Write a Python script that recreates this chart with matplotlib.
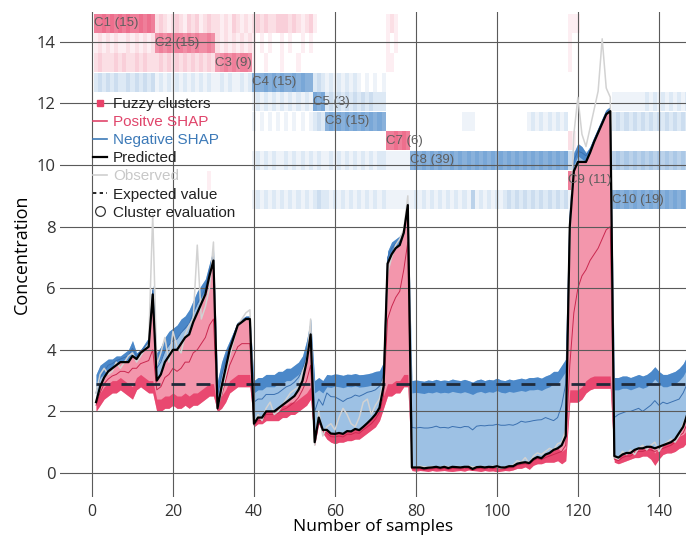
import matplotlib

matplotlib.use("Agg")
import matplotlib.pyplot as plt
import numpy as np
from matplotlib.colors import to_rgba
from matplotlib.lines import Line2D

plt.rcParams["font.family"] = ["Liberation Sans", "DejaVu Sans"]

# clusters in sample order
cluster_names = ["C1", "C2", "C3", "C4", "C5", "C6", "C7", "C8", "C9", "C10"]
cluster_sizes = [15, 15, 9, 15, 3, 15, 6, 39, 11, 19]
cluster_colors = ["#e8436a", "#e8436a", "#e8436a", "#3a7dc4", "#3a7dc4",
                  "#3a7dc4", "#e8436a", "#3a7dc4", "#e8436a", "#3a7dc4"]

# fuzzy membership level (0-9) per sample, one string per cluster segment
membership = [
    ["889898989889898", "232123213231232", "212132121", "232322333232123", "1", "", "121", "", "111", ""],
    ["121212112121212", "787878878787787", "212121212", "101010010100101", "", "", "101", "", "1", ""],
    ["232223232232322", "232323232323232", "678787887", "100100010001000", "", "", "11", "", "1", ""],
    ["232323223232323", "121212121212121", "121211212", "777878787787877", "232", "121212121010101", "", "", "", ""],
    ["", "", "", "121212121212121", "878", "232323232323222", "", "", "", "1111111121212121212"],
    ["", "", "", "101010101010101", "232", "787878787878787", "",
     "000000000000011100000000000001212121212", "", "2323232323232323232"],
    ["", "", "", "", "", "", "889898", "", "21", ""],
    ["", "", "", "121212112121212", "121", "121212121212122", "111111",
     "787878787787878787878787878787878787878", "33322222222", "4545454545454545454"],
    ["", "000000000000010", "", "", "", "", "", "", "88989898989", ""],
    ["", "", "", "121212121212121", "232", "212121212121212", "111111",
     "121212121212121412121212323232323232323", "11111111111", "7878787878787878787"],
]

expected_value = 2.9

# summed positive / negative SHAP contributions per sample
pos_shap = [
    0.3, 0.6, 0.7, 0.8, 0.8, 0.9, 0.9, 1.0, 1.1, 1.4, 1.0, 1.1, 1.3, 1.5, 3.2,
    1.0, 1.2, 1.5, 1.7, 1.8, 1.9, 2.1, 2.2, 2.4, 2.7, 3.0, 3.2, 3.4, 3.9, 4.4,
    0.1, 0.7, 1.1, 1.4, 1.7, 2.0, 2.1, 2.2, 2.2,
    0.1, 0.2, 0.2, 0.3, 0.3, 0.3, 0.4, 0.4, 0.5, 0.5, 0.6, 0.7, 0.9, 1.4, 2.1,
    0.1, 0.2, 0.1,
    0.3, 0.28, 0.32, 0.3, 0.27, 0.31, 0.3, 0.33, 0.29, 0.3, 0.32, 0.35, 0.4, 0.42, 0.7,
    4.3, 4.6, 4.7, 4.8, 5.0, 5.9,
    0.10, 0.12, 0.10, 0.08, 0.12, 0.10, 0.14, 0.10, 0.12, 0.10,
    0.15, 0.12, 0.10, 0.14, 0.10, 0.05, 0.12, 0.15, 0.10, 0.14,
    0.12, 0.18, 0.12, 0.10, 0.15, 0.12, 0.15, 0.18, 0.15, 0.20,
    0.20, 0.22, 0.18, 0.25, 0.30, 0.40, 0.40, 0.60, 0.80,
    5.7, 7.5, 7.8, 7.7, 7.5, 7.7, 8.0, 8.3, 8.6, 8.9, 9.0,
    0.2, 0.2, 0.25, 0.25, 0.2, 0.25, 0.3, 0.25, 0.3, 0.4, 0.55, 0.4, 0.3, 0.3, 0.35, 0.4, 0.5, 0.65, 0.9,
]
neg_shap = [
    0.9, 0.7, 0.5, 0.4, 0.3, 0.3, 0.2, 0.3, 0.4, 0.5, 0.2, 0.1, 0.2, 0.3, 0.3,
    0.9, 0.9, 0.8, 0.8, 0.7, 0.8, 0.8, 0.7, 0.8, 0.7, 0.7, 0.6, 0.5, 0.4, 0.4,
    0.9, 0.8, 0.6, 0.3, 0.2, 0.1, 0.1, 0.1, 0.1,
    1.4, 1.3, 1.3, 1.2, 1.2, 1.2, 1.2, 1.1, 1.1, 1.0, 1.0, 0.9, 0.8, 0.7, 0.5,
    2.0, 1.3, 1.6,
    1.8, 1.9, 1.95, 1.9, 1.9, 1.85, 1.85, 1.8, 1.8, 1.7, 1.6, 1.5, 1.4, 1.2, 0.8,
    0.4, 0.4, 0.3, 0.3, 0.1, 0.1,
    2.82, 2.84, 2.82, 2.83, 2.85, 2.82, 2.84, 2.83, 2.82, 2.84,
    2.85, 2.83, 2.82, 2.84, 2.80, 2.82, 2.83, 2.85, 2.82, 2.84,
    2.83, 2.86, 2.84, 2.82, 2.83, 2.80, 2.75, 2.75, 2.70, 2.78,
    2.65, 2.60, 2.60, 2.55, 2.55, 2.55, 2.50, 2.60, 2.50,
    0.6, 0.6, 0.6, 0.5, 0.3, 0.2, 0.15, 0.15, 0.15, 0.15, 0.15,
    2.55, 2.6, 2.55, 2.5, 2.45, 2.4, 2.4, 2.35, 2.35, 2.45, 2.65, 2.45, 2.3, 2.25, 2.25, 2.2, 2.1, 2.05, 1.9,
]
# largest single positive / negative feature (stacked next to the prediction)
pos_lead = [
    0.1, 0.2, 0.2, 0.25, 0.25, 0.3, 0.3, 0.3, 0.35, 0.4, 0.3, 0.35, 0.4, 0.45, 1.8,
    0.3, 0.4, 0.5, 0.6, 0.6, 0.7, 0.8, 0.8, 0.9, 1.0, 1.2, 1.3, 1.4, 1.6, 1.9,
    0.05, 0.3, 0.4, 0.5, 0.6, 0.7, 0.7, 0.8, 0.8,
    0.05, 0.1, 0.1, 0.1, 0.1, 0.1, 0.15, 0.15, 0.2, 0.2, 0.2, 0.25, 0.3, 0.6, 1.0,
    0.05, 0.1, 0.05,
    0.1, 0.1, 0.1, 0.1, 0.1, 0.1, 0.1, 0.12, 0.1, 0.1, 0.12, 0.15, 0.15, 0.15, 0.3,
    1.8, 1.7, 1.6, 1.5, 1.2, 1.2,
    0.05, 0.05, 0.05, 0.05, 0.05, 0.05, 0.05, 0.05, 0.05, 0.05,
    0.05, 0.05, 0.05, 0.05, 0.05, 0.05, 0.05, 0.05, 0.05, 0.05,
    0.05, 0.05, 0.05, 0.05, 0.05, 0.05, 0.05, 0.05, 0.05, 0.05,
    0.05, 0.05, 0.05, 0.10, 0.10, 0.15, 0.15, 0.20, 0.30,
    4.5, 4.6, 4.1, 3.7, 3.5, 3.5, 3.65, 3.75, 3.75, 3.75, 3.75,
    0.1, 0.1, 0.1, 0.1, 0.1, 0.1, 0.1, 0.1, 0.1, 0.1, 0.1, 0.1, 0.1, 0.1, 0.1, 0.1, 0.1, 0.2, 0.3,
]
neg_lead = [
    0.3, 0.3, 0.2, 0.2, 0.15, 0.15, 0.1, 0.15, 0.2, 0.25, 0.1, 0.05, 0.1, 0.15, 0.15,
    0.4, 0.4, 0.35, 0.35, 0.3, 0.35, 0.35, 0.3, 0.35, 0.3, 0.3, 0.25, 0.2, 0.2, 0.2,
    0.4, 0.35, 0.3, 0.15, 0.1, 0.05, 0.05, 0.05, 0.05,
    0.7, 0.6, 0.6, 0.55, 0.55, 0.55, 0.5, 0.5, 0.5, 0.45, 0.45, 0.4, 0.35, 0.3, 0.2,
    1.0, 0.6, 0.8,
    1.2, 1.2, 1.2, 1.1, 1.05, 1.05, 1.1, 1.1, 1.1, 1.05, 1.0, 0.9, 0.8, 0.7, 0.4,
    0.2, 0.2, 0.15, 0.15, 0.05, 0.05,
    1.30, 1.28, 1.30, 1.31, 1.29, 1.30, 1.32, 1.30, 1.28, 1.30,
    1.31, 1.30, 1.29, 1.31, 1.30, 1.27, 1.33, 1.34, 1.35, 1.35,
    1.36, 1.36, 1.37, 1.37, 1.35, 1.33, 1.30, 1.35, 1.30, 1.35,
    1.25, 1.20, 1.25, 1.20, 1.10, 0.95, 1.00, 1.30, 1.70,
    0.3, 0.35, 0.35, 0.3, 0.2, 0.1, 0.08, 0.08, 0.08, 0.08, 0.08,
    1.25, 1.4, 1.35, 1.35, 1.35, 1.3, 1.3, 1.2, 1.25, 1.35, 1.55, 1.35, 1.4, 1.3, 1.3, 1.25, 1.1, 1.1, 1.0,
]
observed = [
    2.6, 3.2, 3.4, 3.2, 3.3, 3.6, 3.4, 3.6, 3.8, 3.9, 3.6, 3.8, 4.0, 4.2, 8.4,
    3.5, 3.9, 4.4, 3.6, 4.6, 4.1, 3.9, 4.5, 4.8, 5.0, 7.4, 5.0, 5.4, 6.0, 7.5,
    2.1, 2.6, 3.2, 3.8, 4.3, 4.8, 5.0, 5.2, 5.3,
    1.6, 1.9, 1.7, 2.1, 2.3, 1.9, 2.0, 2.2, 2.4, 2.6, 2.7, 2.8, 3.3, 3.6, 5.0,
    0.9, 2.0, 1.2,
    1.5, 1.6, 1.4, 1.8, 2.1, 1.9, 1.6, 1.5, 1.8, 2.3, 2.4, 1.9, 2.2, 2.4, 3.0,
    6.5, 7.0, 7.4, 7.6, 7.9, 9.0,
    0.20, 0.18, 0.22, 0.20, 0.19, 0.21, 0.20, 0.18, 0.22, 0.20,
    0.19, 0.21, 0.20, 0.18, 0.22, 0.20, 0.19, 0.21, 0.20, 0.18,
    0.22, 0.20, 0.15, 0.20, 0.22, 0.25, 0.40, 0.35, 0.50, 0.30,
    0.55, 0.65, 0.60, 0.70, 0.80, 0.75, 0.95, 1.00, 1.40,
    7.5, 11.0, 12.2, 11.0, 10.6, 11.2, 11.8, 12.4, 14.1, 12.5, 12.2,
    0.5, 0.45, 0.7, 0.6, 0.75, 0.6, 0.8, 0.9, 0.75, 0.9, 1.0, 0.7, 0.9, 1.0, 1.1, 1.0, 1.2, 1.6, 1.9,
]

n_samples = sum(cluster_sizes)
samples = np.arange(1, n_samples + 1)
pos = np.array(pos_shap)
neg = np.array(neg_shap)
predicted = expected_value + pos - neg
red_low = predicted - pos
blue_top = predicted + neg

fig = plt.figure(figsize=(6.86, 5.38), dpi=100)
ax = fig.add_axes([60 / 686, 41 / 538, 626 / 686, 485 / 538])

# fuzzy cluster membership strips
row_h, row_step, first_top = 0.62, 0.636, 14.91
starts = np.cumsum([0] + cluster_sizes[:-1]) + 1
for k, segs in enumerate(membership):
    levels = "".join(s.ljust(n, "0")[:n] for s, n in zip(segs, cluster_sizes))
    alpha = np.array([int(c) for c in levels]) * 0.085
    base = to_rgba(cluster_colors[k])
    colors = [(base[0], base[1], base[2], a) for a in alpha]
    top = first_top - k * row_step
    ax.bar(samples, row_h, bottom=top - row_h, width=1.0, color=colors,
           linewidth=0, zorder=1)
    ax.text(starts[k] - 0.5, top - row_h / 2, f"{cluster_names[k]} ({cluster_sizes[k]})",
            fontsize=9.5, color="#5e5e5e", ha="left", va="center", zorder=6)

# stacked SHAP contributions around the prediction
ax.fill_between(samples, red_low, predicted, color="#f396ac", lw=0, zorder=1.5)
ax.fill_between(samples, predicted, blue_top, color="#9dc1e4", lw=0, zorder=1.5)
band = 0.4
ax.fill_between(samples, red_low, red_low + np.minimum(pos, band), color="#e8406a",
                lw=0, alpha=0.9, zorder=1.6)
ax.fill_between(samples, blue_top - np.minimum(neg, band), blue_top, color="#4282c6",
                lw=0, alpha=0.9, zorder=1.6)
ax.plot(samples, predicted - np.array(pos_lead), color="#c9284f", lw=0.7, zorder=2)
ax.plot(samples, predicted + np.array(neg_lead), color="#3a70b0", lw=0.7, zorder=2)

ax.plot(samples, observed, color="#d2d2d2", lw=1.1, zorder=4)
ax.plot([samples[0], samples[-1]], [expected_value, expected_value], color="#1f2a3a",
        lw=2, dashes=(5, 4), zorder=4.5)
ax.plot(samples, predicted, color="black", lw=1.6, zorder=5)

ax.set_xlim(-7.9, 146.7)
ax.set_ylim(-0.78, 14.97)
ax.set_xticks(range(0, 141, 20))
ax.set_yticks(range(0, 15, 2))
ax.grid(True, color="#5a5a5a", lw=0.8)
ax.set_axisbelow(False)
for side in ax.spines.values():
    side.set_visible(False)
ax.tick_params(axis="x", length=0, pad=5, labelsize=11.5, colors="#333333")
ax.tick_params(axis="y", length=0, pad=3, labelsize=12, colors="#333333")
for lbl in ax.get_xticklabels() + ax.get_yticklabels():
    lbl.set_family("Open Sans")
ax.set_xlabel("Number of samples", fontsize=12.5, family="Open Sans", labelpad=-1)
ax.set_ylabel("Concentration", fontsize=13, family="Open Sans", labelpad=4)

handles = [
    Line2D([], [], ls="none", marker="s", ms=5, color="#e8436a"),
    Line2D([], [], color="#e0456b", lw=1.2),
    Line2D([], [], color="#3d7ab8", lw=1.2),
    Line2D([], [], color="black", lw=1.6),
    Line2D([], [], color="#cfcfcf", lw=1.2),
    Line2D([], [], color="black", lw=1.2, dashes=(2, 2)),
    Line2D([], [], ls="none", marker="o", ms=7, mfc="none", mec="#333333", mew=0.9),
]
labels = ["Fuzzy clusters", "Positve SHAP", "Negative SHAP", "Predicted",
          "Observed", "Expected value", "Cluster evaluation"]
leg = ax.legend(handles, labels, loc="upper left", bbox_to_anchor=(0.053, 0.825),
                frameon=False, fontsize=11, handlelength=0.9, handletextpad=0.4,
                labelspacing=0.27, borderaxespad=0, borderpad=0,
                labelcolor=["#222222", "#e0456b", "#3d7ab8", "#222222", "#c8c8c8",
                            "#222222", "#222222"])
leg.set_zorder(7)

fig.savefig("out.png", dpi=100)
